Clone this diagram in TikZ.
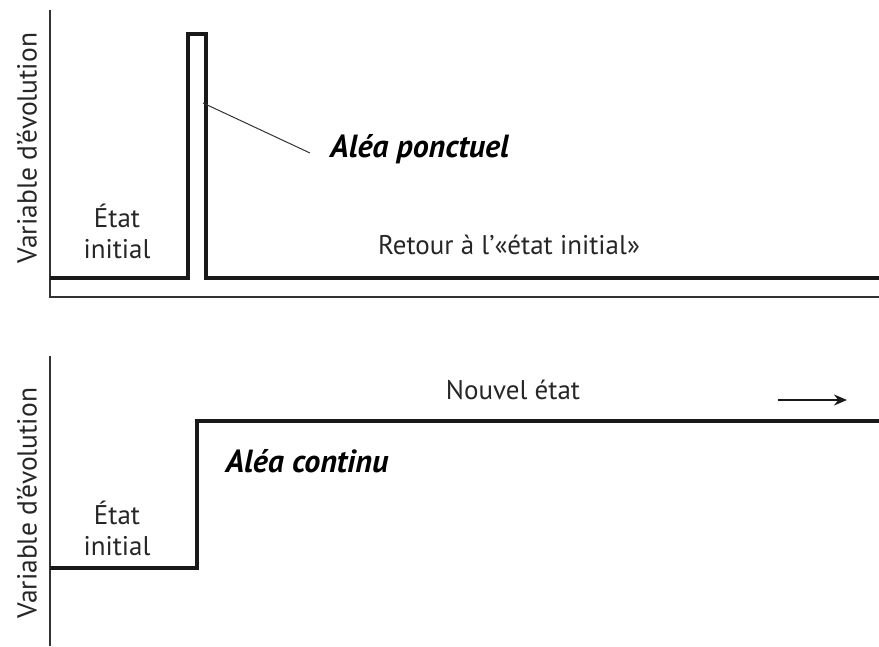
\documentclass[tikz,border=0pt]{standalone}
\usepackage{fontspec}
\setmainfont{PT Sans}
\usetikzlibrary{arrows.meta}
\begin{document}
\begin{tikzpicture}[x=1pt,y=-1pt,
  axis/.style={line width=1.6pt,draw=black!80},
  signal/.style={line width=3.2pt,draw=black!90,line join=miter},
  leader/.style={line width=1pt,draw=black!80},
  lbl/.style={font=\fontsize{27}{31}\selectfont,text=black!85,inner sep=0pt},
  hazard/.style={font=\fontsize{32}{36}\selectfont\bfseries\itshape,inner sep=0pt},
  ylbl/.style={font=\fontsize{27.5}{31}\selectfont,text=black!85,rotate=90,inner sep=0pt}]
\useasboundingbox (0,0) rectangle (879,646);

% ---- top panel: one-off event ----
\coordinate (t0) at (50,10);
\coordinate (tO) at (50,297);
\coordinate (tX) at (879,297);
\draw[axis] (t0) -- (tO) -- (tX);
\draw[signal] (50,278) -- (188,278) -- (188,34) -- (206,34) -- (206,278) -- (879,278);
\node[ylbl] (ty) at (27,148) {Variable d’évolution};
\node[lbl,align=center] (tinit) at (117,231) {État\\initial};
\node[hazard,anchor=west] (tpunct) at (330,149) {Aléa ponctuel};
\coordinate (tpin) at (203,103);
\draw[leader] (tpin) -- ([xshift=-20pt,yshift=-4pt]tpunct.west);
\node[lbl] (tret) at (509,245) {Retour à l’«état initial»};

% ---- bottom panel: lasting event ----
\coordinate (b0) at (50,356);
\coordinate (bO) at (50,646);
\draw[axis] (b0) -- (bO);
\draw[signal] (50,568) -- (197,568) -- (197,421) -- (879,421);
\node[ylbl] (by) at (27,503) {Variable d’évolution};
\node[lbl,align=center] (binit) at (117,528) {État\\initial};
\node[hazard] (bcont) at (307,461) {Aléa continu};
\node[lbl] (bnew) at (513,390) {Nouvel état};
\coordinate (ba) at (778,400);
\coordinate (bb) at (847,400);
\draw[line width=1.7pt,draw=black!90,-{Stealth[length=13pt,width=11pt]}] (ba) -- (bb);
\end{tikzpicture}
\end{document}
